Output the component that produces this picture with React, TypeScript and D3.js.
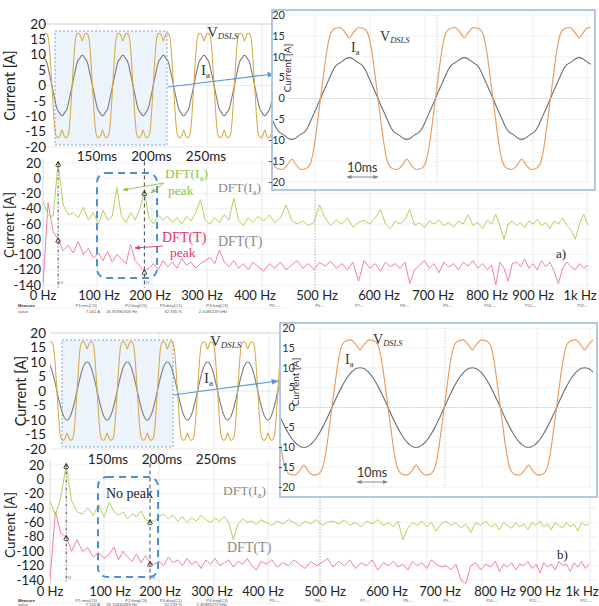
import React from 'react';
import * as d3 from 'd3';

// ---------- data ----------
const CURRENT_TICKS = [20, 15, 10, 5, 0, -5, -10, -15, -20];
const TIME_TICKS_MS = [150, 200, 250];
const DFT_TICKS = [20, 0, -20, -40, -60, -80, -100, -120, -140];
const FREQ_TICKS_HZ = [0, 100, 200, 300, 400, 500, 600, 700, 800, 900, 1000];
const FREQ_LABELS = ['0 Hz', '100 Hz', '200 Hz', '300 Hz', '400 Hz', '500 Hz', '600 Hz', '700 Hz', '800 Hz', '900 Hz', '1k Hz'];

// one electrical period, sampled every 10 degrees starting at the I_a peak
const PERIOD_MS = 37.2;
const IA_PEAK_MS_A = 136.5;
const IA_PEAK_MS_B = 130.6;
const V_CYCLE = [
  14.5, 15.5, 16.5, 17.0, 16.9, 16.5, 15.2, 11.5, 6.0, 0,
  -6.0, -11.5, -15.2, -16.5, -16.9, -17.0, -16.5, -15.5, -14.5,
  -15.5, -16.5, -17.0, -16.9, -16.5, -15.2, -11.5, -6.0, 0,
  6.0, 11.5, 15.2, 16.5, 16.9, 17.0, 16.5, 15.5,
];
const IA_CYCLE_A = [
  9.8, 9.6, 9.0, 8.5, 8.0, 6.9, 5.2, 3.5, 1.8, 0,
  -1.8, -3.5, -5.2, -6.9, -8.0, -8.5, -9.0, -9.6, -9.8,
  -9.6, -9.0, -8.5, -8.0, -6.9, -5.2, -3.5, -1.8, 0,
  1.8, 3.5, 5.2, 6.9, 8.0, 8.5, 9.0, 9.6,
];
const IA_CYCLE_B = [
  10, 9.85, 9.4, 8.66, 7.66, 6.43, 5.0, 3.42, 1.74, 0,
  -1.74, -3.42, -5.0, -6.43, -7.66, -8.66, -9.4, -9.85, -10,
  -9.85, -9.4, -8.66, -7.66, -6.43, -5.0, -3.42, -1.74, 0,
  1.74, 3.42, 5.0, 6.43, 7.66, 8.66, 9.4, 9.85,
];

// spectra, one value every 9 Hz from 0 Hz
const FREQ_STEP_HZ = 9;
const DFT_IA_A = [
  -30, -48, -50, 20, -35, -48, -45, -52, -38, -55,
  -45, -60, -42, -55, -50, -12, -50, -58, -45, -55,
  -40, -18, -52, -60, -48, -55, -50, -58, -52, -60,
  -50, -56, -45, -28, -55, -60, -52, -58, -48, -55,
  -26, -55, -62, -52, -58, -50, -56, -48, -58, -52,
  -35, -55, -60, -56, -62, -58, -35, -52, -62, -55,
  -60, -52, -64, -58, -55, -60, -52, -41, -60, -66,
  -56, -60, -54, -41, -62, -58, -65, -56, -60, -55,
  -62, -58, -64, -56, -60, -48, -62, -58, -66, -55,
  -60, -47, -62, -80, -60, -56, -62, -58, -65, -56,
  -60, -54, -62, -58, -66, -56, -60, -52, -62, -68,
  -80, -60, -47, -62,
];
const DFT_T_A = [
  -140, -32, -70, -80, -95, -88, -98, -83, -100, -92,
  -105, -98, -108, -96, -110, -100, -106, -112, -87, -108,
  -115, -122, -118, -112, -120, -108, -116, -110, -118, -105,
  -114, -110, -118, -112, -108, -104, -112, -94, -110, -116,
  -108, -118, -112, -120, -110, -116, -122, -112, -118, -110,
  -120, -114, -108, -118, -112, -120, -110, -115, -109, -118,
  -112, -120, -110, -135, -108, -118, -112, -122, -110, -116,
  -112, -118, -110, -138, -120, -114, -108, -118, -112, -124,
  -110, -116, -112, -120, -110, -115, -108, -118, -112, -120,
  -114, -140, -110, -118, -135, -112, -110, -116, -106, -118,
  -112, -120, -108, -116, -110, -122, -138, -118, -110, -116,
  -120, -112, -118, -114,
];
const DFT_IA_B = [
  -30, -50, -25, 20, -30, -45, -48, -40, -50, -35,
  -52, -32, -45, -50, -45, -55, -48, -52, -44, -56,
  -58, -58, -52, -48, -55, -50, -58, -52, -60, -54,
  -58, -50, -56, -60, -54, -58, -52, -60, -84, -62,
  -55, -60, -58, -63, -56, -60, -64, -58, -62, -56,
  -60, -65, -58, -62, -56, -64, -60, -58, -62, -56,
  -64, -60, -66, -58, -62, -56, -64, -60, -66, -58,
  -84, -68, -60, -64, -58, -66, -60, -72, -62, -58,
  -64, -60, -68, -62, -74, -60, -64, -58, -66, -62,
  -70, -60, -64, -68, -60, -66, -62, -70, -60, -64,
  -58, -66, -62, -70, -60, -64, -68, -60, -66, -62,
  -72, -60, -64, -62,
];
const DFT_T_B = [
  -140, -45, -75, -80, -100, -84, -100, -95, -108, -102,
  -110, -104, -94, -112, -100, -108, -114, -104, -116, -106,
  -116, -118, -114, -120, -108, -116, -112, -120, -110, -118,
  -114, -124, -112, -118, -110, -120, -116, -112, -122, -114,
  -118, -110, -120, -126, -114, -118, -112, -122, -116, -120,
  -112, -118, -124, -114, -120, -116, -110, -122, -114, -120,
  -112, -124, -116, -120, -112, -126, -116, -120, -114, -122,
  -118, -126, -114, -120, -116, -124, -112, -118, -122, -120,
  -126, -118, -140, -145, -120, -116, -126, -118, -122, -114,
  -128, -118, -122, -116, -126, -118, -120, -114, -124, -118,
  -130, -116, -122, -118, -126, -114, -120, -118, -128, -116,
  -122, -114, -124, -118,
];
const CURSOR_HZ_A = [27, 189];
const CURSOR_HZ_B = [27, 180];

const MEASURE_HEADERS = ['P1:rms(C5)', 'P2:freq(C5)', 'P3:duty(C1)', 'P4:freq(C3)', 'P5:---'];
const MEASURE_VALUES_A = ['7.041 A', '26.91930706 Hz', '32.335 %', '2.4185129 kHz'];
const MEASURE_VALUES_B = ['7.100 A', '26.70430285 Hz', '32.133 %', '2.40983272 kHz'];
const EXTRA_SLOTS = ['P6:---', 'P7:---', 'P8:---', 'P9:---', 'P10:---', 'P11:---', 'P12:---'];

// ---------- styles ----------
const SANS = "Lato, 'Open Sans', 'Liberation Sans', Arial, sans-serif";
const SERIF = "'Liberation Serif', 'DejaVu Serif', Times, serif";
const C_V_MAIN = '#d6aa45';
const C_V_INSET = '#e99c5e';
const C_IA = '#7d7d7d';
const C_GREEN = '#b0d35c';
const C_PINK = '#f27fa3';
const C_BLUE = '#4a90d9';
const C_GRID = '#e6e6e6';

function wavePoints(cycle: number[], peakMs: number, t0: number, t1: number) {
  const n = cycle.length;
  const dt = PERIOD_MS / n;
  const pts: [number, number][] = [];
  const kStart = Math.floor((t0 - peakMs) / PERIOD_MS) - 1;
  const kEnd = Math.ceil((t1 - peakMs) / PERIOD_MS) + 1;
  for (let k = kStart; k <= kEnd; k++) {
    for (let j = 0; j < n; j++) {
      const t = peakMs + k * PERIOD_MS + j * dt;
      if (t >= t0 - 3 * dt && t <= t1 + 3 * dt) pts.push([t, cycle[j]]);
    }
  }
  return pts;
}

type Box = { x0: number; x1: number; y0: number; y1: number };

function Waves(props: {
  id: string; box: Box; t: d3.ScaleLinear<number, number>; y: d3.ScaleLinear<number, number>;
  iaCycle: number[]; iaPeak: number; vColor: string; iaColor: string; vW: number;
}) {
  const { id, box, t, y, iaCycle, iaPeak, vColor, iaColor, vW } = props;
  const t0 = t.invert(box.x0);
  const t1 = t.invert(box.x1);
  const line = d3.line<[number, number]>().x(d => t(d[0])).y(d => y(d[1])).curve(d3.curveMonotoneX);
  return (
    <g>
      <clipPath id={id}>
        <rect x={box.x0} y={box.y0} width={box.x1 - box.x0} height={box.y1 - box.y0} />
      </clipPath>
      <g clipPath={`url(#${id})`}>
        <path d={line(wavePoints(iaCycle, iaPeak, t0, t1)) || ''} fill="none" stroke={iaColor} strokeWidth={1.1} />
        <path d={line(wavePoints(V_CYCLE, iaPeak, t0, t1)) || ''} fill="none" stroke={vColor} strokeWidth={vW} />
      </g>
    </g>
  );
}

function VLabel({ x, y, size, sub }: { x: number; y: number; size: number; sub: number }) {
  return (
    <text x={x} y={y} fontFamily={SERIF} fontSize={size} fill="#333">
      V<tspan fontSize={sub} dy={2} fontStyle="italic">DSLS</tspan>
    </text>
  );
}
function IaLabel({ x, y, size, sub }: { x: number; y: number; size: number; sub: number }) {
  return (
    <text x={x} y={y} fontFamily={SERIF} fontSize={size} fill="#333">
      I<tspan fontSize={sub} dy={3}>a</tspan>
    </text>
  );
}

function MainPlot(props: {
  id: string; box: Box; t: d3.ScaleLinear<number, number>; y: d3.ScaleLinear<number, number>;
  iaCycle: number[]; iaPeak: number; shade: Box; labelX: number; timeY: number; axisLabelX: number;
  vLab: [number, number]; iaLab: [number, number]; arrow: [number, number, number, number];
}) {
  const { id, box, t, y, iaCycle, iaPeak, shade, labelX, timeY, axisLabelX, vLab, iaLab, arrow } = props;
  const gx = d3.range(box.x0 + 54, box.x1, 55);
  const cy = (y(20) + y(-20)) / 2;
  return (
    <g>
      {gx.map((x, i) => <line key={'gx' + i} x1={x} x2={x} y1={y(20)} y2={y(-20)} stroke={C_GRID} strokeWidth={0.8} />)}
      <line x1={box.x0} x2={box.x1} y1={y(20)} y2={y(20)} stroke="#cfcfcf" strokeWidth={1} />
      <line x1={box.x0} x2={box.x1} y1={y(0)} y2={y(0)} stroke="#e2e2e2" strokeWidth={0.8} />
      <line x1={box.x0} x2={box.x1} y1={y(-20)} y2={y(-20)} stroke="#e2e2e2" strokeWidth={0.8} />
      <rect x={shade.x0} y={shade.y0} width={shade.x1 - shade.x0} height={shade.y1 - shade.y0}
        fill="#eaf1fa" fillOpacity={0.85} stroke="#7aa8d8" strokeWidth={1} strokeDasharray="2 2" />
      <Waves id={id} box={box} t={t} y={y} iaCycle={iaCycle} iaPeak={iaPeak} vColor={C_V_MAIN} iaColor={C_IA} vW={1.05} />
      {CURRENT_TICKS.map(v => (
        <text key={'yl' + v} x={labelX} y={y(v)} dy="0.35em" textAnchor="end" fontFamily={SANS} fontSize={13.5} fill="#222">{v}</text>
      ))}
      <text transform={`translate(${axisLabelX},${cy}) rotate(-90)`} textAnchor="middle" fontFamily={SANS} fontSize={14.5} fill="#222">Current [A]</text>
      {TIME_TICKS_MS.map(v => (
        <text key={'tl' + v} x={t(v)} y={timeY} textAnchor="middle" fontFamily={SANS} fontSize={13.5} fill="#222">{v}ms</text>
      ))}
      <VLabel x={vLab[0]} y={vLab[1]} size={15} sub={9} />
      <IaLabel x={iaLab[0]} y={iaLab[1]} size={15} sub={9} />
      <line x1={arrow[0]} y1={arrow[1]} x2={arrow[2]} y2={arrow[3]} stroke="#5b9bd5" strokeWidth={1.2} markerEnd="url(#arrBlue)" />
    </g>
  );
}

function Inset(props: {
  id: string; frame: Box; t: d3.ScaleLinear<number, number>; y: d3.ScaleLinear<number, number>;
  iaCycle: number[]; iaPeak: number; labelX: number; axisLabel: [number, number]; gridXs: number[]; dottedX: number;
  vLab: [number, number]; iaLab: [number, number]; ten: [number, number];
}) {
  const { id, frame, t, y, iaCycle, iaPeak, labelX, axisLabel, gridXs, dottedX, vLab, iaLab, ten } = props;
  const inner: Box = { x0: frame.x0 + 1, x1: frame.x1 - 4, y0: frame.y0 + 1, y1: frame.y1 - 1 };
  const msPx = t(10) - t(0);
  return (
    <g>
      <rect x={frame.x0} y={frame.y0} width={frame.x1 - frame.x0} height={frame.y1 - frame.y0} fill="#fff" stroke="#a9c4e4" strokeWidth={1.8} />
      {CURRENT_TICKS.map(v => (
        <line key={'hg' + v} x1={frame.x0 + 16} x2={frame.x1 - 4} y1={y(v)} y2={y(v)} stroke="#ececec" strokeWidth={0.8} />
      ))}
      {gridXs.map((x, i) => <line key={'vg' + i} x1={x} x2={x} y1={y(20)} y2={y(-20)} stroke="#e8e8e8" strokeWidth={0.8} />)}
      <line x1={dottedX} x2={dottedX} y1={y(20)} y2={y(-20)} stroke="#bdbdbd" strokeWidth={0.8} strokeDasharray="1.5 1.5" />
      <line x1={frame.x0 + 16} x2={frame.x1 - 4} y1={y(0)} y2={y(0)} stroke="#c8c8c8" strokeWidth={0.8} strokeDasharray="1.5 1.5" />
      <Waves id={id} box={inner} t={t} y={y} iaCycle={iaCycle} iaPeak={iaPeak} vColor={C_V_INSET} iaColor="#6f6f6f" vW={1.15} />
      {CURRENT_TICKS.map(v => (
        <text key={'il' + v} x={labelX} y={y(v)} dy="0.35em" textAnchor="end" fontFamily={SANS} fontSize={11} fill="#333">{v}</text>
      ))}
      <text transform={`translate(${axisLabel[0]},${axisLabel[1]}) rotate(-90)`} textAnchor="middle" fontFamily={SANS} fontSize={10} fill="#333">Current [A]</text>
      <VLabel x={vLab[0]} y={vLab[1]} size={14} sub={8.5} />
      <IaLabel x={iaLab[0]} y={iaLab[1]} size={14} sub={8.5} />
      <text x={ten[0] + msPx / 2} y={ten[1]} textAnchor="middle" fontFamily={SANS} fontSize={12.5} fill="#333">10ms</text>
      <line x1={ten[0]} x2={ten[0] + msPx} y1={ten[1] + 5} y2={ten[1] + 5} stroke="#888" strokeWidth={1}
        markerStart="url(#arrGrayS)" markerEnd="url(#arrGray)" />
    </g>
  );
}

function Spectrum(props: {
  id: string; area: Box; xs: d3.ScaleLinear<number, number>; ys: d3.ScaleLinear<number, number>;
  green: number[]; pink: number[]; cursors: number[]; gridXs: number[]; dottedX: number;
  xLabelY: number; yLabelX: number; axisLabel: [number, number];
}) {
  const { id, area, xs, ys, green, pink, cursors, gridXs, dottedX, xLabelY, yLabelX, axisLabel } = props;
  const line = d3.line<number>().x((_, i) => xs(i * FREQ_STEP_HZ)).y(v => ys(v));
  const [c1, c2] = cursors;
  const idx = (f: number) => Math.round(f / FREQ_STEP_HZ);
  const marker = (x: number, yv: number, k: string) => (
    <g key={k}>
      <path d={`M${x - 2.5},${yv + 3} L${x},${yv - 1.5} L${x + 2.5},${yv + 3}`} fill="none" stroke="#333" strokeWidth={1} />
      <line x1={x - 2} x2={x + 2} y1={yv + 3.5} y2={yv + 3.5} stroke="#333" strokeWidth={0.8} />
    </g>
  );
  return (
    <g>
      {DFT_TICKS.map(v => (
        <line key={'sh' + v} x1={area.x0} x2={area.x1} y1={ys(v)} y2={ys(v)} stroke="#ededed" strokeWidth={0.8} />
      ))}
      {gridXs.map((x, i) => <line key={'sv' + i} x1={x} x2={x} y1={area.y0} y2={area.y1} stroke="#e4e4e4" strokeWidth={0.8} />)}
      <line x1={dottedX} x2={dottedX} y1={area.y0} y2={area.y1} stroke="#9a9a9a" strokeWidth={0.8} strokeDasharray="1.5 1.5" />
      <line x1={area.x0} x2={area.x0} y1={area.y0} y2={area.y1} stroke="#d0d0d0" strokeWidth={0.8} />
      <clipPath id={id}>
        <rect x={area.x0} y={area.y0} width={area.x1 - area.x0} height={area.y1 - area.y0} />
      </clipPath>
      <g clipPath={`url(#${id})`}>
        <path d={line(pink) || ''} fill="none" stroke={C_PINK} strokeWidth={1} />
        <path d={line(green) || ''} fill="none" stroke={C_GREEN} strokeWidth={1} />
      </g>
      <line x1={xs(c1)} x2={xs(c1)} y1={ys(22)} y2={area.y1 - 2} stroke="#333" strokeWidth={0.9} strokeDasharray="3 2 1 2" />
      <line x1={xs(c2)} x2={xs(c2)} y1={ys(22)} y2={area.y1 - 2} stroke="#333" strokeWidth={0.9} strokeDasharray="4 3" />
      {marker(xs(c1), ys(green[idx(c1)]), 'm1')}
      {marker(xs(c1), ys(pink[idx(c1)]), 'm2')}
      {marker(xs(c2), ys(green[idx(c2)]), 'm3')}
      {marker(xs(c2), ys(pink[idx(c2)]), 'm4')}
      <text x={xs(c1) + 1} y={area.y1 - 6} textAnchor="start" fontFamily={SANS} fontSize={4.5} fill="#777">f2</text>
      <text x={xs(c2) + 1} y={area.y1 - 6} textAnchor="start" fontFamily={SANS} fontSize={4.5} fill="#777">f2</text>
      {DFT_TICKS.map(v => (
        <text key={'dy' + v} x={yLabelX} y={ys(v)} dy="0.35em" textAnchor="end" fontFamily={SANS} fontSize={13} fill="#222">{v}</text>
      ))}
      <text transform={`translate(${axisLabel[0]},${axisLabel[1]}) rotate(-90)`} textAnchor="middle" fontFamily={SANS} fontSize={13.5} fill="#222">Current [A]</text>
      {FREQ_TICKS_HZ.map((f, i) => (
        <text key={'fx' + f} x={xs(f)} y={xLabelY} textAnchor="middle" fontFamily={SANS} fontSize={13} fill="#222">{FREQ_LABELS[i]}</text>
      ))}
    </g>
  );
}

function MeasureRows({ y, values, slotXs, valueDy }: { y: number; values: string[]; slotXs: number[]; valueDy: number }) {
  const headEnds = [97, 147, 182, 228, 280];
  const valEnds = [100, 137, 182, 227];
  return (
    <g fontFamily="Arial, 'Liberation Sans', sans-serif" fontSize={4.2} fill="#555">
      <text x={18} y={y} fontWeight="bold" fill="#333">Measure</text>
      {MEASURE_HEADERS.map((h, i) => <text key={h} x={headEnds[i]} y={y} textAnchor="end">{h}</text>)}
      <line x1={16} x2={290} y1={y + 1.3} y2={y + 1.3} stroke="#e0e0e0" strokeWidth={0.5} />
      <text x={18} y={y + valueDy}>value</text>
      {values.map((v, i) => <text key={v} x={valEnds[i]} y={y + valueDy} textAnchor="end">{v}</text>)}
      {EXTRA_SLOTS.map((s, i) => <text key={s} x={slotXs[i]} y={y} textAnchor="middle" fontSize={3.8}>{s}</text>)}
    </g>
  );
}

export default function App() {
  // ---- panel a ----
  const mainA = {
    t: d3.scaleLinear().domain([150, 250]).range([97, 206]),
    y: d3.scaleLinear().domain([20, -20]).range([24, 147]),
  };
  const insetA = {
    t: d3.scaleLinear().domain([111.5, 214.4]).range([272, 590]),
    y: d3.scaleLinear().domain([20, -20]).range([15, 182]),
  };
  const specA = {
    x: d3.scaleLinear().domain(FREQ_TICKS_HZ).range([43, 99, 150, 202, 255, 317, 379, 433, 487, 533, 580]),
    y: d3.scaleLinear().domain([20, -140]).range([163, 285]),
  };
  // ---- panel b ----
  const mainB = {
    t: d3.scaleLinear().domain([150, 250]).range([108, 216]),
    y: d3.scaleLinear().domain([20, -20]).range([333, 449]),
  };
  const insetB = {
    t: d3.scaleLinear().domain([104.1, 209.1]).range([280, 597]),
    y: d3.scaleLinear().domain([20, -20]).range([328, 487]),
  };
  const specB = {
    x: d3.scaleLinear().domain(FREQ_TICKS_HZ).range([50, 110, 160, 212, 263, 325, 387, 440, 495, 540, 582]),
    y: d3.scaleLinear().domain([20, -140]).range([465, 580]),
  };

  const gridA = [97, 152, 207, 262, 370, 425, 478, 533, 587];
  const gridB = [104, 159, 214, 268, 373, 427, 482, 537, 590];

  return (
    <svg width={599} height={606} viewBox="0 0 599 606" style={{ position: 'absolute', left: 0, top: 0, background: '#fff' }}>
      <defs>
        <marker id="arrBlue" viewBox="0 0 10 10" refX="9" refY="5" markerWidth="6" markerHeight="6" orient="auto">
          <path d="M0,1 L10,5 L0,9 z" fill="#5b9bd5" />
        </marker>
        <marker id="arrGreen" viewBox="0 0 10 10" refX="9" refY="5" markerWidth="6" markerHeight="6" orient="auto">
          <path d="M0,1 L10,5 L0,9 z" fill="#8cc63f" />
        </marker>
        <marker id="arrRed" viewBox="0 0 10 10" refX="9" refY="5" markerWidth="6" markerHeight="6" orient="auto">
          <path d="M0,1 L10,5 L0,9 z" fill="#e8336b" />
        </marker>
        <marker id="arrGray" viewBox="0 0 10 10" refX="9" refY="5" markerWidth="5" markerHeight="5" orient="auto">
          <path d="M0,1 L10,5 L0,9 z" fill="#888" />
        </marker>
        <marker id="arrGrayS" viewBox="0 0 10 10" refX="1" refY="5" markerWidth="5" markerHeight="5" orient="auto">
          <path d="M10,1 L0,5 L10,9 z" fill="#888" />
        </marker>
      </defs>
      <rect x={0} y={0} width={599} height={606} fill="#fff" />

      {/* ===== panel a ===== */}
      <Spectrum id="clipSpecA" area={{ x0: 43, x1: 590, y0: 158, y1: 290 }} xs={specA.x} ys={specA.y}
        green={DFT_IA_A} pink={DFT_T_A} cursors={CURSOR_HZ_A} gridXs={gridA} dottedX={315}
        xLabelY={300} yLabelX={41} axisLabel={[14, 225]} />
      <MainPlot id="clipMainA" box={{ x0: 43, x1: 272, y0: 18, y1: 152 }} t={mainA.t} y={mainA.y}
        iaCycle={IA_CYCLE_A} iaPeak={IA_PEAK_MS_A} shade={{ x0: 55, x1: 167, y0: 31, y1: 145 }}
        labelX={46} timeY={161} axisLabelX={15} vLab={[207, 37]} iaLab={[201, 75]} arrow={[168, 87, 274, 74]} />
      <Inset id="clipInsetA" frame={{ x0: 272, x1: 595, y0: 10, y1: 190 }} t={insetA.t} y={insetA.y}
        iaCycle={IA_CYCLE_A} iaPeak={IA_PEAK_MS_A} labelX={285} axisLabel={[291, 68]}
        gridXs={[315, 370, 425, 478, 533, 587]} dottedX={437}
        vLab={[380, 41]} iaLab={[351, 52]} ten={[347, 172]} />
      {/* annotations a */}
      <rect x={97} y={173} width={60} height={105} rx={9} fill="none" stroke={C_BLUE} strokeWidth={2} strokeDasharray="7 5" />
      <text x={165} y={178} fontFamily={SERIF} fontSize={13.5} fill="#8cc63f">DFT(I<tspan fontSize={9} dy={3}>a</tspan><tspan dy={-3}>)</tspan></text>
      <text x={168} y={195} fontFamily={SERIF} fontSize={13.5} fill="#8cc63f">peak</text>
      <line x1={164} y1={183} x2={123} y2={190} stroke="#8cc63f" strokeWidth={0.9} markerEnd="url(#arrGreen)" />
      <line x1={164} y1={183} x2={151} y2={193} stroke="#8cc63f" strokeWidth={0.9} markerEnd="url(#arrGreen)" />
      <text x={218} y={192} fontFamily={SERIF} fontSize={13.5} fill="#8a8a8a">DFT(I<tspan fontSize={9} dy={3}>a</tspan><tspan dy={-3}>)</tspan></text>
      <text x={162} y={242} fontFamily={SERIF} fontSize={14} fill="#e8336b">DFT(T)</text>
      <text x={170} y={257} fontFamily={SERIF} fontSize={13.5} fill="#e8336b">peak</text>
      <line x1={163} y1={246} x2={135} y2={248} stroke="#e8336b" strokeWidth={0.9} markerEnd="url(#arrRed)" />
      <text x={218} y={246} fontFamily={SERIF} fontSize={14} fill="#8a8a8a">DFT(T)</text>
      <text x={556} y={258} fontFamily={SERIF} fontSize={13} fill="#222">a)</text>
      <MeasureRows y={307} values={MEASURE_VALUES_A} slotXs={[320, 360, 405, 448, 490, 531, 583]} valueDy={6} />

      {/* ===== panel b ===== */}
      <Spectrum id="clipSpecB" area={{ x0: 50, x1: 597, y0: 460, y1: 585 }} xs={specB.x} ys={specB.y}
        green={DFT_IA_B} pink={DFT_T_B} cursors={CURSOR_HZ_B} gridXs={gridB} dottedX={320}
        xLabelY={595.5} yLabelX={44} axisLabel={[15, 525]} />
      <MainPlot id="clipMainB" box={{ x0: 50, x1: 280, y0: 326, y1: 453 }} t={mainB.t} y={mainB.y}
        iaCycle={IA_CYCLE_B} iaPeak={IA_PEAK_MS_B} shade={{ x0: 62, x1: 173, y0: 340, y1: 447 }}
        labelX={46} timeY={464} axisLabelX={26} vLab={[210, 346]} iaLab={[204, 383]} arrow={[173, 395, 278, 381]} />
      <Inset id="clipInsetB" frame={{ x0: 280, x1: 597, y0: 323, y1: 497 }} t={insetB.t} y={insetB.y}
        iaCycle={IA_CYCLE_B} iaPeak={IA_PEAK_MS_B} labelX={295} axisLabel={[299, 382]}
        gridXs={[320, 373, 427, 482, 537, 590]} dottedX={445}
        vLab={[373, 344]} iaLab={[345, 364]} ten={[357, 477]} />
      <rect x={98} y={477} width={60} height={100} rx={9} fill="none" stroke={C_BLUE} strokeWidth={2} strokeDasharray="7 5" />
      <text x={106} y={498} fontFamily={SERIF} fontSize={14} fill="#222">No peak</text>
      <text x={223} y={495} fontFamily={SERIF} fontSize={13.5} fill="#8a8a8a">DFT(I<tspan fontSize={9} dy={3}>a</tspan><tspan dy={-3}>)</tspan></text>
      <text x={227} y={552} fontFamily={SERIF} fontSize={14} fill="#8a8a8a">DFT(T)</text>
      <text x={557} y={559} fontFamily={SERIF} fontSize={13} fill="#222">b)</text>
      <MeasureRows y={601.8} values={MEASURE_VALUES_B} slotXs={[320, 365, 408, 448, 492, 535, 586]} valueDy={4.1} />
    </svg>
  );
}
